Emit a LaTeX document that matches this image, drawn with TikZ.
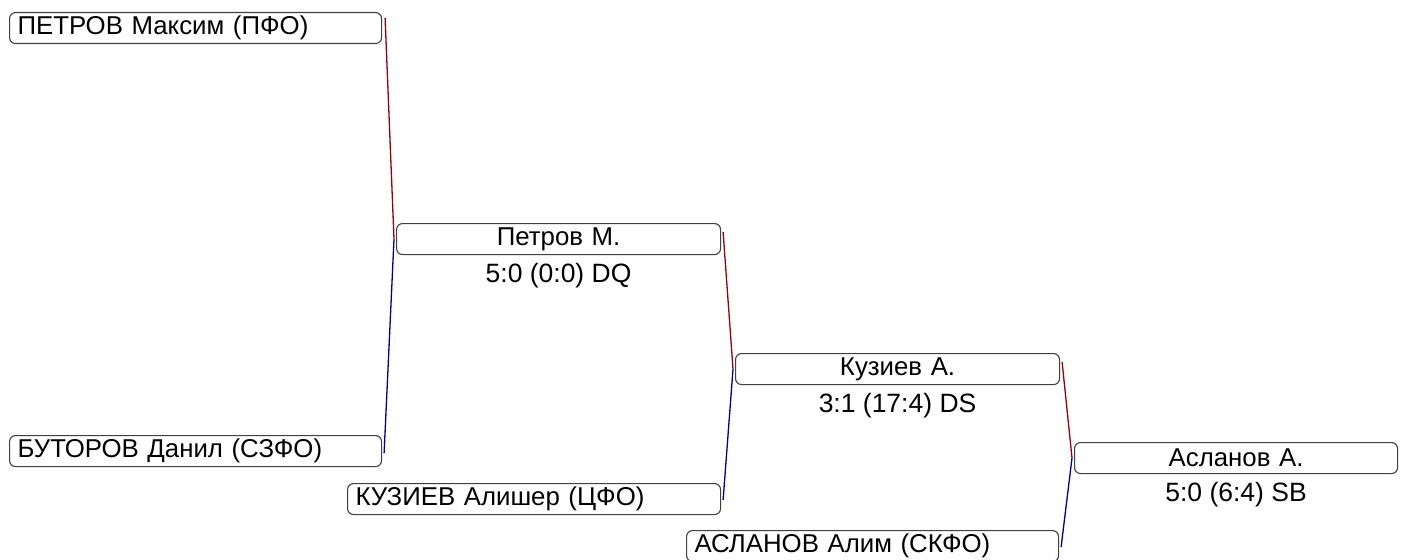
\documentclass[tikz,border=0pt]{standalone}
\usepackage{fontspec}
\setmainfont{Liberation Sans}
\usetikzlibrary{positioning,calc}

\definecolor{akaRed}{RGB}{150,0,10}
\definecolor{aoBlue}{RGB}{0,0,140}

\tikzset{
  fighter/.style={draw=black!75, line width=1.1pt, rounded corners=6pt,
    inner xsep=8pt, inner ysep=0pt, minimum height=31pt, anchor=north west,
    text width=#1, align=left, font=\fontsize{25.8}{30}\selectfont},
  fighter/.default=356pt,
  winner/.style={fighter=308pt, align=center},
  score/.style={inner sep=0pt, font=\fontsize{26.5}{30}\selectfont},
  redline/.style={akaRed, line width=1.3pt},
  blueline/.style={aoBlue, line width=1.3pt}
}

\begin{document}
\begin{tikzpicture}[x=1pt, y=-1pt]

    % 1. Khung ảnh
    \useasboundingbox (0,0) rectangle (1404,559);

    % 2. Các vận động viên vòng đầu
    \node[fighter] (p1) at (9,12)   {ПЕТРОВ Максим (ПФО)};
    \node[fighter] (p2) at (9,435)  {БУТОРОВ Данил (СЗФО)};
    \node[fighter=357pt] (p3) at (347,483) {КУЗИЕВ Алишер (ЦФО)};
    \node[fighter] (p4) at (686,530) {АСЛАНОВ Алим (СКФО)};

    % 3. Người thắng và tỉ số
    \node[winner] (w1) at (396,223)  {Петров М.};
    \node[score, below=8pt of w1] (s1) {5:0 (0:0) DQ};

    \node[winner] (w2) at (735,353)  {Кузиев А.};
    \node[score, below=8pt of w2] (s2) {3:1 (17:4) DS};

    \node[winner, text width=307pt] (w3) at (1074,442) {Асланов А.};
    \node[score, below=8pt of w3] (s3) {5:0 (6:4) SB};

    % 4. Đường nối (đỏ: trên, xanh: dưới)
    \coordinate (j1) at ($(w1.west)+(-2,0)$);
    \coordinate (j2) at ($(w2.west)+(-2,0)$);
    \coordinate (j3) at ($(w3.west)+(-2,0)$);

    \draw[redline]  ($(p1.north east)+(3,6)$) -- (j1);
    \draw[blueline] (j1) -- ($(p2.north east)+(2,18)$);

    \draw[redline]  ($(w1.north east)+(2,9)$) -- (j2);
    \draw[blueline] (j2) -- ($(p3.north east)+(2,17)$);

    \draw[redline]  ($(w2.north east)+(2,9)$) -- (j3);
    \draw[blueline] (j3) -- ($(p4.north east)+(2,17)$);

\end{tikzpicture}
\end{document}
